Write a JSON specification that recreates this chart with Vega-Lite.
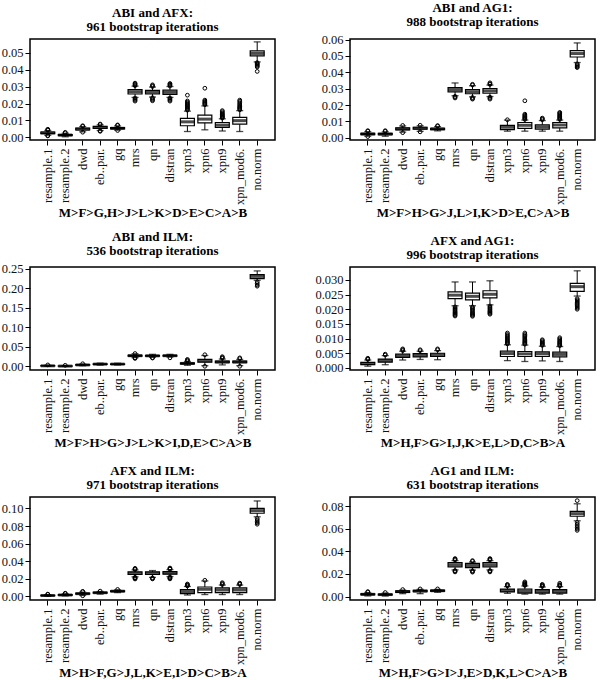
{
"$schema":"https://vega.github.io/schema/vega-lite/v6.json",
"padding":{"left":0,"top":0,"right":3,"bottom":0},
"background":"white",
"datasets":{
"b":[
{"p":1,"m":"resample.1","lo":0.0013,"q1":0.0022,"md":0.0027,"q3":0.0032,"hi":0.0041},
{"p":1,"m":"resample.2","lo":0.0004,"q1":0.0011,"md":0.0014,"q3":0.0017,"hi":0.0025},
{"p":1,"m":"dwd","lo":0.0033,"q1":0.0044,"md":0.0049,"q3":0.0055,"hi":0.0064},
{"p":1,"m":"eb..par.","lo":0.0041,"q1":0.0054,"md":0.0059,"q3":0.0065,"hi":0.0074},
{"p":1,"m":"gq","lo":0.0043,"q1":0.005,"md":0.0054,"q3":0.0058,"hi":0.0068},
{"p":1,"m":"mrs","lo":0.0236,"q1":0.0256,"md":0.0269,"q3":0.0282,"hi":0.0302},
{"p":1,"m":"qn","lo":0.0238,"q1":0.0256,"md":0.0266,"q3":0.0277,"hi":0.0297},
{"p":1,"m":"distran","lo":0.0236,"q1":0.0254,"md":0.0266,"q3":0.0279,"hi":0.03},
{"p":1,"m":"xpn3","lo":0.0035,"q1":0.0069,"md":0.0092,"q3":0.0112,"hi":0.0155},
{"p":1,"m":"xpn6","lo":0.0045,"q1":0.0086,"md":0.0108,"q3":0.0131,"hi":0.0186},
{"p":1,"m":"xpn9","lo":0.0038,"q1":0.0059,"md":0.0073,"q3":0.0088,"hi":0.011},
{"p":1,"m":"xpn_mod6.","lo":0.0035,"q1":0.0078,"md":0.0099,"q3":0.0118,"hi":0.0158},
{"p":1,"m":"no.norm","lo":0.0445,"q1":0.0481,"md":0.0495,"q3":0.051,"hi":0.0563},
{"p":2,"m":"resample.1","lo":0.0009,"q1":0.0019,"md":0.0023,"q3":0.0027,"hi":0.0037},
{"p":2,"m":"resample.2","lo":0.0009,"q1":0.0018,"md":0.0022,"q3":0.0026,"hi":0.0036},
{"p":2,"m":"dwd","lo":0.0034,"q1":0.0048,"md":0.0054,"q3":0.006,"hi":0.0072},
{"p":2,"m":"eb..par.","lo":0.0039,"q1":0.0053,"md":0.0058,"q3":0.0064,"hi":0.0073},
{"p":2,"m":"gq","lo":0.0042,"q1":0.005,"md":0.0054,"q3":0.0058,"hi":0.0068},
{"p":2,"m":"mrs","lo":0.0257,"q1":0.0281,"md":0.0294,"q3":0.0307,"hi":0.0335},
{"p":2,"m":"qn","lo":0.025,"q1":0.0269,"md":0.0282,"q3":0.0295,"hi":0.0318},
{"p":2,"m":"distran","lo":0.0252,"q1":0.0272,"md":0.0286,"q3":0.03,"hi":0.0322},
{"p":2,"m":"xpn3","lo":0.004,"q1":0.0049,"md":0.0064,"q3":0.0076,"hi":0.0108},
{"p":2,"m":"xpn6","lo":0.004,"q1":0.0057,"md":0.0076,"q3":0.0093,"hi":0.0108},
{"p":2,"m":"xpn9","lo":0.004,"q1":0.0052,"md":0.0066,"q3":0.0079,"hi":0.0105},
{"p":2,"m":"xpn_mod6.","lo":0.004,"q1":0.006,"md":0.0078,"q3":0.0093,"hi":0.0108},
{"p":2,"m":"no.norm","lo":0.046,"q1":0.0494,"md":0.0515,"q3":0.0533,"hi":0.058},
{"p":3,"m":"resample.1","lo":0.0005,"q1":0.0013,"md":0.0017,"q3":0.0021,"hi":0.003},
{"p":3,"m":"resample.2","lo":0.0002,"q1":0.0007,"md":0.001,"q3":0.0013,"hi":0.002},
{"p":3,"m":"dwd","lo":0.002,"q1":0.0033,"md":0.004,"q3":0.0047,"hi":0.006},
{"p":3,"m":"eb..par.","lo":0.0035,"q1":0.0052,"md":0.006,"q3":0.0067,"hi":0.0085},
{"p":3,"m":"gq","lo":0.0038,"q1":0.0053,"md":0.006,"q3":0.0066,"hi":0.0082},
{"p":3,"m":"mrs","lo":0.0225,"q1":0.0262,"md":0.0275,"q3":0.0288,"hi":0.0325},
{"p":3,"m":"qn","lo":0.0235,"q1":0.0262,"md":0.0272,"q3":0.0282,"hi":0.031},
{"p":3,"m":"distran","lo":0.024,"q1":0.0265,"md":0.0275,"q3":0.0285,"hi":0.031},
{"p":3,"m":"xpn3","lo":0.003,"q1":0.0062,"md":0.0078,"q3":0.0092,"hi":0.013},
{"p":3,"m":"xpn6","lo":0.002,"q1":0.011,"md":0.0145,"q3":0.018,"hi":0.028},
{"p":3,"m":"xpn9","lo":0.004,"q1":0.0095,"md":0.0115,"q3":0.0135,"hi":0.019},
{"p":3,"m":"xpn_mod6.","lo":0.002,"q1":0.0095,"md":0.0115,"q3":0.0135,"hi":0.018},
{"p":3,"m":"no.norm","lo":0.22,"q1":0.2245,"md":0.23,"q3":0.2345,"hi":0.244},
{"p":4,"m":"resample.1","lo":0.0006,"q1":0.0011,"md":0.0015,"q3":0.0019,"hi":0.0027},
{"p":4,"m":"resample.2","lo":0.0011,"q1":0.002,"md":0.0025,"q3":0.003,"hi":0.0042},
{"p":4,"m":"dwd","lo":0.0027,"q1":0.0036,"md":0.0041,"q3":0.0047,"hi":0.0057},
{"p":4,"m":"eb..par.","lo":0.0029,"q1":0.0038,"md":0.0043,"q3":0.0049,"hi":0.0057},
{"p":4,"m":"gq","lo":0.0028,"q1":0.0039,"md":0.0045,"q3":0.005,"hi":0.0059},
{"p":4,"m":"mrs","lo":0.0212,"q1":0.0236,"md":0.0248,"q3":0.0259,"hi":0.0293},
{"p":4,"m":"qn","lo":0.0212,"q1":0.0232,"md":0.0244,"q3":0.0255,"hi":0.0293},
{"p":4,"m":"distran","lo":0.0215,"q1":0.0239,"md":0.0251,"q3":0.0263,"hi":0.0297},
{"p":4,"m":"xpn3","lo":0.0025,"q1":0.0039,"md":0.0049,"q3":0.0057,"hi":0.0079},
{"p":4,"m":"xpn6","lo":0.0022,"q1":0.0039,"md":0.0048,"q3":0.0056,"hi":0.0078},
{"p":4,"m":"xpn9","lo":0.0024,"q1":0.0039,"md":0.0048,"q3":0.0055,"hi":0.0074},
{"p":4,"m":"xpn_mod6.","lo":0.0022,"q1":0.0038,"md":0.0046,"q3":0.0054,"hi":0.0073},
{"p":4,"m":"no.norm","lo":0.0245,"q1":0.0261,"md":0.0277,"q3":0.0288,"hi":0.0331},
{"p":5,"m":"resample.1","lo":0.0001,"q1":0.0006,"md":0.0009,"q3":0.0012,"hi":0.0019},
{"p":5,"m":"resample.2","lo":0.0005,"q1":0.0012,"md":0.0015,"q3":0.0019,"hi":0.0028},
{"p":5,"m":"dwd","lo":0.001,"q1":0.0025,"md":0.003,"q3":0.0036,"hi":0.0048},
{"p":5,"m":"eb..par.","lo":0.0025,"q1":0.0036,"md":0.0041,"q3":0.0046,"hi":0.0055},
{"p":5,"m":"gq","lo":0.0042,"q1":0.0053,"md":0.0058,"q3":0.0063,"hi":0.0074},
{"p":5,"m":"mrs","lo":0.0222,"q1":0.0248,"md":0.0262,"q3":0.0277,"hi":0.03},
{"p":5,"m":"qn","lo":0.0215,"q1":0.0248,"md":0.0262,"q3":0.0277,"hi":0.0293},
{"p":5,"m":"distran","lo":0.0225,"q1":0.0252,"md":0.0266,"q3":0.0282,"hi":0.0303},
{"p":5,"m":"xpn3","lo":0.0015,"q1":0.003,"md":0.0053,"q3":0.0076,"hi":0.0112},
{"p":5,"m":"xpn6","lo":0.002,"q1":0.0042,"md":0.008,"q3":0.0106,"hi":0.0175},
{"p":5,"m":"xpn9","lo":0.002,"q1":0.0042,"md":0.0072,"q3":0.0095,"hi":0.0128},
{"p":5,"m":"xpn_mod6.","lo":0.002,"q1":0.0042,"md":0.0072,"q3":0.0097,"hi":0.0128},
{"p":5,"m":"no.norm","lo":0.0905,"q1":0.0945,"md":0.0975,"q3":0.1,"hi":0.1085},
{"p":6,"m":"resample.1","lo":0.0006,"q1":0.0016,"md":0.002,"q3":0.0025,"hi":0.0036},
{"p":6,"m":"resample.2","lo":0.0005,"q1":0.0014,"md":0.0018,"q3":0.0022,"hi":0.0032},
{"p":6,"m":"dwd","lo":0.0026,"q1":0.0038,"md":0.0044,"q3":0.005,"hi":0.0058},
{"p":6,"m":"eb..par.","lo":0.0026,"q1":0.0043,"md":0.0049,"q3":0.0055,"hi":0.0064},
{"p":6,"m":"gq","lo":0.0038,"q1":0.0047,"md":0.0052,"q3":0.0057,"hi":0.0064},
{"p":6,"m":"mrs","lo":0.0236,"q1":0.0262,"md":0.0281,"q3":0.0301,"hi":0.0318},
{"p":6,"m":"qn","lo":0.0234,"q1":0.0256,"md":0.0275,"q3":0.0293,"hi":0.0306},
{"p":6,"m":"distran","lo":0.0236,"q1":0.0262,"md":0.0281,"q3":0.0301,"hi":0.0318},
{"p":6,"m":"xpn3","lo":0.0029,"q1":0.0042,"md":0.0053,"q3":0.0066,"hi":0.0088},
{"p":6,"m":"xpn6","lo":0.0022,"q1":0.003,"md":0.0045,"q3":0.0066,"hi":0.0094},
{"p":6,"m":"xpn9","lo":0.0022,"q1":0.0031,"md":0.0045,"q3":0.0062,"hi":0.0085},
{"p":6,"m":"xpn_mod6.","lo":0.0022,"q1":0.0031,"md":0.0045,"q3":0.0062,"hi":0.0088},
{"p":6,"m":"no.norm","lo":0.067,"q1":0.071,"md":0.0733,"q3":0.0753,"hi":0.082}
],
"o":[
{"p":1,"m":"resample.1","v":0.0043},{"p":1,"m":"resample.1","v":0.0046},{"p":1,"m":"resample.1","v":0.0048},{"p":1,"m":"resample.1","v":0.0011},{"p":1,"m":"resample.1","v":0.0009},
{"p":1,"m":"resample.2","v":0.0027},{"p":1,"m":"resample.2","v":0.003},
{"p":1,"m":"dwd","v":0.0066},{"p":1,"m":"dwd","v":0.0069},{"p":1,"m":"dwd","v":0.0031},
{"p":1,"m":"eb..par.","v":0.0076},{"p":1,"m":"eb..par.","v":0.0079},{"p":1,"m":"eb..par.","v":0.0039},{"p":1,"m":"eb..par.","v":0.0036},
{"p":1,"m":"gq","v":0.0071},{"p":1,"m":"gq","v":0.0074},{"p":1,"m":"gq","v":0.0041},
{"p":1,"m":"mrs","v":0.0305},{"p":1,"m":"mrs","v":0.031},{"p":1,"m":"mrs","v":0.0315},{"p":1,"m":"mrs","v":0.032},{"p":1,"m":"mrs","v":0.0232},{"p":1,"m":"mrs","v":0.0226},{"p":1,"m":"mrs","v":0.022},{"p":1,"m":"mrs","v":0.0214},
{"p":1,"m":"qn","v":0.03},{"p":1,"m":"qn","v":0.0305},{"p":1,"m":"qn","v":0.031},{"p":1,"m":"qn","v":0.0234},{"p":1,"m":"qn","v":0.0228},{"p":1,"m":"qn","v":0.0222},{"p":1,"m":"qn","v":0.0216},
{"p":1,"m":"distran","v":0.0303},{"p":1,"m":"distran","v":0.0308},{"p":1,"m":"distran","v":0.0313},{"p":1,"m":"distran","v":0.0318},{"p":1,"m":"distran","v":0.0232},{"p":1,"m":"distran","v":0.0226},{"p":1,"m":"distran","v":0.022},{"p":1,"m":"distran","v":0.0214},
{"p":1,"m":"xpn3","v":0.0161},{"p":1,"m":"xpn3","v":0.0166},{"p":1,"m":"xpn3","v":0.0171},{"p":1,"m":"xpn3","v":0.0176},{"p":1,"m":"xpn3","v":0.0181},{"p":1,"m":"xpn3","v":0.0186},{"p":1,"m":"xpn3","v":0.0191},{"p":1,"m":"xpn3","v":0.0196},{"p":1,"m":"xpn3","v":0.0202},{"p":1,"m":"xpn3","v":0.0208},{"p":1,"m":"xpn3","v":0.0215},{"p":1,"m":"xpn3","v":0.0249},
{"p":1,"m":"xpn6","v":0.0193},{"p":1,"m":"xpn6","v":0.0198},{"p":1,"m":"xpn6","v":0.0203},{"p":1,"m":"xpn6","v":0.0208},{"p":1,"m":"xpn6","v":0.0214},{"p":1,"m":"xpn6","v":0.022},{"p":1,"m":"xpn6","v":0.029},
{"p":1,"m":"xpn9","v":0.0114},{"p":1,"m":"xpn9","v":0.0118},{"p":1,"m":"xpn9","v":0.0122},{"p":1,"m":"xpn9","v":0.0126},{"p":1,"m":"xpn9","v":0.013},{"p":1,"m":"xpn9","v":0.0135},{"p":1,"m":"xpn9","v":0.014},{"p":1,"m":"xpn9","v":0.0145},{"p":1,"m":"xpn9","v":0.0152},{"p":1,"m":"xpn9","v":0.0158},
{"p":1,"m":"xpn_mod6.","v":0.0163},{"p":1,"m":"xpn_mod6.","v":0.0168},{"p":1,"m":"xpn_mod6.","v":0.0173},{"p":1,"m":"xpn_mod6.","v":0.0178},{"p":1,"m":"xpn_mod6.","v":0.0183},{"p":1,"m":"xpn_mod6.","v":0.019},{"p":1,"m":"xpn_mod6.","v":0.0197},{"p":1,"m":"xpn_mod6.","v":0.0205},{"p":1,"m":"xpn_mod6.","v":0.0213},{"p":1,"m":"xpn_mod6.","v":0.022},
{"p":1,"m":"no.norm","v":0.0441},{"p":1,"m":"no.norm","v":0.0436},{"p":1,"m":"no.norm","v":0.0431},{"p":1,"m":"no.norm","v":0.0426},{"p":1,"m":"no.norm","v":0.042},{"p":1,"m":"no.norm","v":0.0415},{"p":1,"m":"no.norm","v":0.0389},
{"p":2,"m":"resample.1","v":0.004},{"p":2,"m":"resample.1","v":0.0043},{"p":2,"m":"resample.1","v":0.0007},
{"p":2,"m":"resample.2","v":0.0039},{"p":2,"m":"resample.2","v":0.0043},
{"p":2,"m":"dwd","v":0.0075},{"p":2,"m":"dwd","v":0.0031},
{"p":2,"m":"eb..par.","v":0.0076},{"p":2,"m":"eb..par.","v":0.0036},
{"p":2,"m":"gq","v":0.0071},{"p":2,"m":"gq","v":0.0074},
{"p":2,"m":"mrs","v":0.0253},{"p":2,"m":"mrs","v":0.0248},{"p":2,"m":"mrs","v":0.0243},
{"p":2,"m":"qn","v":0.0322},{"p":2,"m":"qn","v":0.0327},{"p":2,"m":"qn","v":0.0246},{"p":2,"m":"qn","v":0.024},{"p":2,"m":"qn","v":0.0236},
{"p":2,"m":"distran","v":0.0326},{"p":2,"m":"distran","v":0.033},{"p":2,"m":"distran","v":0.0336},{"p":2,"m":"distran","v":0.0248},{"p":2,"m":"distran","v":0.0242},{"p":2,"m":"distran","v":0.0236},
{"p":2,"m":"xpn3","v":0.011},
{"p":2,"m":"xpn6","v":0.0112},{"p":2,"m":"xpn6","v":0.0117},{"p":2,"m":"xpn6","v":0.0122},{"p":2,"m":"xpn6","v":0.0127},{"p":2,"m":"xpn6","v":0.0132},{"p":2,"m":"xpn6","v":0.0138},{"p":2,"m":"xpn6","v":0.0144},{"p":2,"m":"xpn6","v":0.0226},
{"p":2,"m":"xpn9","v":0.011},{"p":2,"m":"xpn9","v":0.0115},{"p":2,"m":"xpn9","v":0.012},
{"p":2,"m":"xpn_mod6.","v":0.0112},{"p":2,"m":"xpn_mod6.","v":0.0117},{"p":2,"m":"xpn_mod6.","v":0.0122},{"p":2,"m":"xpn_mod6.","v":0.0127},{"p":2,"m":"xpn_mod6.","v":0.0132},{"p":2,"m":"xpn_mod6.","v":0.0138},{"p":2,"m":"xpn_mod6.","v":0.0144},{"p":2,"m":"xpn_mod6.","v":0.015},{"p":2,"m":"xpn_mod6.","v":0.0155},
{"p":2,"m":"no.norm","v":0.0452},{"p":2,"m":"no.norm","v":0.0446},{"p":2,"m":"no.norm","v":0.044},{"p":2,"m":"no.norm","v":0.0434},{"p":2,"m":"no.norm","v":0.0429},
{"p":3,"m":"resample.1","v":0.004},{"p":3,"m":"resample.2","v":0.003},{"p":3,"m":"dwd","v":0.007},
{"p":3,"m":"mrs","v":0.033},{"p":3,"m":"mrs","v":0.022},{"p":3,"m":"mrs","v":0.0205},
{"p":3,"m":"qn","v":0.0225},{"p":3,"m":"qn","v":0.0215},{"p":3,"m":"distran","v":0.022},
{"p":3,"m":"xpn3","v":0.014},{"p":3,"m":"xpn3","v":0.016},{"p":3,"m":"xpn3","v":0.018},
{"p":3,"m":"xpn6","v":0.03},{"p":3,"m":"xpn6","v":0.0005},
{"p":3,"m":"xpn9","v":0.021},{"p":3,"m":"xpn9","v":0.023},{"p":3,"m":"xpn9","v":0.025},
{"p":3,"m":"xpn_mod6.","v":0.02},{"p":3,"m":"xpn_mod6.","v":0.022},{"p":3,"m":"xpn_mod6.","v":0.0005},
{"p":3,"m":"no.norm","v":0.216},{"p":3,"m":"no.norm","v":0.212},{"p":3,"m":"no.norm","v":0.208},{"p":3,"m":"no.norm","v":0.205},
{"p":4,"m":"resample.1","v":0.0029},{"p":4,"m":"resample.1","v":0.0031},{"p":4,"m":"resample.1","v":0.0033},
{"p":4,"m":"resample.2","v":0.0044},{"p":4,"m":"resample.2","v":0.0047},
{"p":4,"m":"dwd","v":0.0059},{"p":4,"m":"dwd","v":0.0062},{"p":4,"m":"dwd","v":0.0065},
{"p":4,"m":"eb..par.","v":0.0059},{"p":4,"m":"eb..par.","v":0.0062},
{"p":4,"m":"gq","v":0.0062},{"p":4,"m":"gq","v":0.0065},
{"p":4,"m":"mrs","v":0.0208},{"p":4,"m":"mrs","v":0.0204},{"p":4,"m":"mrs","v":0.02},{"p":4,"m":"mrs","v":0.0196},{"p":4,"m":"mrs","v":0.0192},{"p":4,"m":"mrs","v":0.0189},{"p":4,"m":"mrs","v":0.0186},{"p":4,"m":"mrs","v":0.0183},{"p":4,"m":"mrs","v":0.018},{"p":4,"m":"mrs","v":0.0177},
{"p":4,"m":"qn","v":0.0208},{"p":4,"m":"qn","v":0.0204},{"p":4,"m":"qn","v":0.02},{"p":4,"m":"qn","v":0.0196},{"p":4,"m":"qn","v":0.0192},{"p":4,"m":"qn","v":0.0188},{"p":4,"m":"qn","v":0.0185},{"p":4,"m":"qn","v":0.0182},{"p":4,"m":"qn","v":0.0179},{"p":4,"m":"qn","v":0.0176},
{"p":4,"m":"distran","v":0.0211},{"p":4,"m":"distran","v":0.0207},{"p":4,"m":"distran","v":0.0203},{"p":4,"m":"distran","v":0.0199},{"p":4,"m":"distran","v":0.0195},{"p":4,"m":"distran","v":0.0192},{"p":4,"m":"distran","v":0.0189},{"p":4,"m":"distran","v":0.0186},{"p":4,"m":"distran","v":0.0183},
{"p":4,"m":"xpn3","v":0.0082},{"p":4,"m":"xpn3","v":0.0085},{"p":4,"m":"xpn3","v":0.0088},{"p":4,"m":"xpn3","v":0.0091},{"p":4,"m":"xpn3","v":0.0094},{"p":4,"m":"xpn3","v":0.0098},{"p":4,"m":"xpn3","v":0.0102},{"p":4,"m":"xpn3","v":0.0106},{"p":4,"m":"xpn3","v":0.011},{"p":4,"m":"xpn3","v":0.0114},{"p":4,"m":"xpn3","v":0.0119},
{"p":4,"m":"xpn6","v":0.0081},{"p":4,"m":"xpn6","v":0.0084},{"p":4,"m":"xpn6","v":0.0087},{"p":4,"m":"xpn6","v":0.009},{"p":4,"m":"xpn6","v":0.0094},{"p":4,"m":"xpn6","v":0.0098},{"p":4,"m":"xpn6","v":0.0102},{"p":4,"m":"xpn6","v":0.0106},{"p":4,"m":"xpn6","v":0.011},{"p":4,"m":"xpn6","v":0.0114},{"p":4,"m":"xpn6","v":0.0119},
{"p":4,"m":"xpn9","v":0.0077},{"p":4,"m":"xpn9","v":0.008},{"p":4,"m":"xpn9","v":0.0083},{"p":4,"m":"xpn9","v":0.0086},{"p":4,"m":"xpn9","v":0.0089},{"p":4,"m":"xpn9","v":0.0093},{"p":4,"m":"xpn9","v":0.0096},
{"p":4,"m":"xpn_mod6.","v":0.0076},{"p":4,"m":"xpn_mod6.","v":0.0079},{"p":4,"m":"xpn_mod6.","v":0.0082},{"p":4,"m":"xpn_mod6.","v":0.0085},{"p":4,"m":"xpn_mod6.","v":0.0088},{"p":4,"m":"xpn_mod6.","v":0.0091},{"p":4,"m":"xpn_mod6.","v":0.0095},{"p":4,"m":"xpn_mod6.","v":0.0099},{"p":4,"m":"xpn_mod6.","v":0.0103},
{"p":4,"m":"no.norm","v":0.0236},{"p":4,"m":"no.norm","v":0.0232},{"p":4,"m":"no.norm","v":0.0228},{"p":4,"m":"no.norm","v":0.0224},{"p":4,"m":"no.norm","v":0.022},{"p":4,"m":"no.norm","v":0.0216},{"p":4,"m":"no.norm","v":0.0212},{"p":4,"m":"no.norm","v":0.0208},{"p":4,"m":"no.norm","v":0.0204},{"p":4,"m":"no.norm","v":0.02},
{"p":5,"m":"resample.1","v":0.0022},{"p":5,"m":"resample.1","v":0.0025},
{"p":5,"m":"resample.2","v":0.0031},{"p":5,"m":"resample.2","v":0.0035},
{"p":5,"m":"dwd","v":0.0052},{"p":5,"m":"dwd","v":0.0056},{"p":5,"m":"dwd","v":0.0006},
{"p":5,"m":"eb..par.","v":0.0059},{"p":5,"m":"gq","v":0.0078},
{"p":5,"m":"mrs","v":0.0305},{"p":5,"m":"mrs","v":0.0312},{"p":5,"m":"mrs","v":0.0318},{"p":5,"m":"mrs","v":0.0216},{"p":5,"m":"mrs","v":0.021},{"p":5,"m":"mrs","v":0.0203},{"p":5,"m":"mrs","v":0.0197},
{"p":5,"m":"qn","v":0.021},{"p":5,"m":"qn","v":0.0204},{"p":5,"m":"qn","v":0.0198},
{"p":5,"m":"distran","v":0.0309},{"p":5,"m":"distran","v":0.0316},{"p":5,"m":"distran","v":0.0322},{"p":5,"m":"distran","v":0.0219},{"p":5,"m":"distran","v":0.0212},{"p":5,"m":"distran","v":0.0205},{"p":5,"m":"distran","v":0.0198},
{"p":5,"m":"xpn3","v":0.0118},{"p":5,"m":"xpn3","v":0.0125},{"p":5,"m":"xpn3","v":0.0132},{"p":5,"m":"xpn3","v":0.014},
{"p":5,"m":"xpn6","v":0.0182},
{"p":5,"m":"xpn9","v":0.0134},{"p":5,"m":"xpn9","v":0.0145},{"p":5,"m":"xpn9","v":0.0155},
{"p":5,"m":"xpn_mod6.","v":0.0135},{"p":5,"m":"xpn_mod6.","v":0.0142},{"p":5,"m":"xpn_mod6.","v":0.015},
{"p":5,"m":"no.norm","v":0.0885},{"p":5,"m":"no.norm","v":0.0868},{"p":5,"m":"no.norm","v":0.085},{"p":5,"m":"no.norm","v":0.0835},{"p":5,"m":"no.norm","v":0.082},
{"p":6,"m":"resample.1","v":0.004},{"p":6,"m":"resample.1","v":0.0044},
{"p":6,"m":"resample.2","v":0.0036},{"p":6,"m":"dwd","v":0.0062},{"p":6,"m":"eb..par.","v":0.0068},{"p":6,"m":"gq","v":0.0068},
{"p":6,"m":"mrs","v":0.0324},{"p":6,"m":"mrs","v":0.033},{"p":6,"m":"mrs","v":0.0336},{"p":6,"m":"mrs","v":0.023},{"p":6,"m":"mrs","v":0.0224},{"p":6,"m":"mrs","v":0.0218},
{"p":6,"m":"qn","v":0.0312},{"p":6,"m":"qn","v":0.0318},{"p":6,"m":"qn","v":0.0228},{"p":6,"m":"qn","v":0.0222},{"p":6,"m":"qn","v":0.0216},
{"p":6,"m":"distran","v":0.0324},{"p":6,"m":"distran","v":0.033},{"p":6,"m":"distran","v":0.0336},{"p":6,"m":"distran","v":0.023},{"p":6,"m":"distran","v":0.0224},{"p":6,"m":"distran","v":0.0218},
{"p":6,"m":"xpn3","v":0.0095},{"p":6,"m":"xpn3","v":0.0102},{"p":6,"m":"xpn3","v":0.0108},
{"p":6,"m":"xpn6","v":0.0099},{"p":6,"m":"xpn6","v":0.0104},{"p":6,"m":"xpn6","v":0.011},{"p":6,"m":"xpn6","v":0.0116},{"p":6,"m":"xpn6","v":0.0122},{"p":6,"m":"xpn6","v":0.013},
{"p":6,"m":"xpn9","v":0.009},{"p":6,"m":"xpn9","v":0.0096},{"p":6,"m":"xpn9","v":0.0102},{"p":6,"m":"xpn9","v":0.0108},
{"p":6,"m":"xpn_mod6.","v":0.0094},{"p":6,"m":"xpn_mod6.","v":0.01},{"p":6,"m":"xpn_mod6.","v":0.0106},{"p":6,"m":"xpn_mod6.","v":0.0118},
{"p":6,"m":"no.norm","v":0.0848},{"p":6,"m":"no.norm","v":0.0655},{"p":6,"m":"no.norm","v":0.064},{"p":6,"m":"no.norm","v":0.0625},{"p":6,"m":"no.norm","v":0.061},{"p":6,"m":"no.norm","v":0.0597},{"p":6,"m":"no.norm","v":0.0585}
]
},
"columns":2,
"bounds":"flush",
"spacing":{"row":127,"column":75},
"concat":[
{"title":{"text":["ABI and AFX:","961 bootstrap iterations"]},"width":245,"height":101,
"encoding":{"x":{"field":"m","type":"nominal","scale":{"domain":["resample.1","resample.2","dwd","eb..par.","gq","mrs","qn","distran","xpn3","xpn6","xpn9","xpn_mod6.","no.norm"],"paddingInner":0.2,"paddingOuter":0.62},"axis":{"title":"M>F>G,H>J>L>K>D>E>C>A>B"}}},
"layer":[
{"data":{"name":"b"},"transform":[{"filter":"datum.p==1"}],"mark":{"type":"rule","color":"black","strokeWidth":1},"encoding":{"y":{"field":"lo","type":"quantitative","title":null,"scale":{"domain":[-0.0015,0.058],"nice":false,"zero":false},"axis":{"values":[0,0.01,0.02,0.03,0.04,0.05],"format":".2f","labelOverlap":false}},"y2":{"field":"hi"}}},
{"data":{"name":"b"},"transform":[{"filter":"datum.p==1"},{"fold":["lo","hi"]}],"mark":{"type":"tick","color":"black","size":7,"thickness":1.3},"encoding":{"y":{"field":"value","type":"quantitative","title":null,"scale":{"domain":[-0.0015,0.058],"nice":false,"zero":false},"axis":{"values":[0,0.01,0.02,0.03,0.04,0.05],"format":".2f","labelOverlap":false}}}},
{"data":{"name":"b"},"transform":[{"filter":"datum.p==1"}],"mark":{"type":"bar","fill":"white","stroke":"black","strokeWidth":1.2},"encoding":{"y":{"field":"q1","type":"quantitative","title":null,"scale":{"domain":[-0.0015,0.058],"nice":false,"zero":false},"axis":{"values":[0,0.01,0.02,0.03,0.04,0.05],"format":".2f","labelOverlap":false}},"y2":{"field":"q3"}}},
{"data":{"name":"b"},"transform":[{"filter":"datum.p==1"}],"mark":{"type":"tick","color":"black","size":14,"thickness":3},"encoding":{"y":{"field":"md","type":"quantitative","title":null,"scale":{"domain":[-0.0015,0.058],"nice":false,"zero":false},"axis":{"values":[0,0.01,0.02,0.03,0.04,0.05],"format":".2f","labelOverlap":false}}}},
{"data":{"name":"o"},"transform":[{"filter":"datum.p==1"}],"mark":{"type":"point","shape":"circle","filled":false,"color":"black","size":14,"strokeWidth":1,"opacity":1},"encoding":{"y":{"field":"v","type":"quantitative","title":null,"scale":{"domain":[-0.0015,0.058],"nice":false,"zero":false},"axis":{"values":[0,0.01,0.02,0.03,0.04,0.05],"format":".2f","labelOverlap":false}}}}
]},
{"title":{"text":["ABI and AG1:","988 bootstrap iterations"]},"width":245,"height":101,
"encoding":{"x":{"field":"m","type":"nominal","scale":{"domain":["resample.1","resample.2","dwd","eb..par.","gq","mrs","qn","distran","xpn3","xpn6","xpn9","xpn_mod6.","no.norm"],"paddingInner":0.2,"paddingOuter":0.62},"axis":{"title":"M>F>H>G>J,L>I,K>D>E,C>A>B"}}},
"layer":[
{"data":{"name":"b"},"transform":[{"filter":"datum.p==2"}],"mark":{"type":"rule","color":"black","strokeWidth":1},"encoding":{"y":{"field":"lo","type":"quantitative","title":null,"scale":{"domain":[-0.0014,0.0604],"nice":false,"zero":false},"axis":{"values":[0,0.01,0.02,0.03,0.04,0.05,0.06],"format":".2f","labelOverlap":false}},"y2":{"field":"hi"}}},
{"data":{"name":"b"},"transform":[{"filter":"datum.p==2"},{"fold":["lo","hi"]}],"mark":{"type":"tick","color":"black","size":7,"thickness":1.3},"encoding":{"y":{"field":"value","type":"quantitative","title":null,"scale":{"domain":[-0.0014,0.0604],"nice":false,"zero":false},"axis":{"values":[0,0.01,0.02,0.03,0.04,0.05,0.06],"format":".2f","labelOverlap":false}}}},
{"data":{"name":"b"},"transform":[{"filter":"datum.p==2"}],"mark":{"type":"bar","fill":"white","stroke":"black","strokeWidth":1.2},"encoding":{"y":{"field":"q1","type":"quantitative","title":null,"scale":{"domain":[-0.0014,0.0604],"nice":false,"zero":false},"axis":{"values":[0,0.01,0.02,0.03,0.04,0.05,0.06],"format":".2f","labelOverlap":false}},"y2":{"field":"q3"}}},
{"data":{"name":"b"},"transform":[{"filter":"datum.p==2"}],"mark":{"type":"tick","color":"black","size":14,"thickness":3},"encoding":{"y":{"field":"md","type":"quantitative","title":null,"scale":{"domain":[-0.0014,0.0604],"nice":false,"zero":false},"axis":{"values":[0,0.01,0.02,0.03,0.04,0.05,0.06],"format":".2f","labelOverlap":false}}}},
{"data":{"name":"o"},"transform":[{"filter":"datum.p==2"}],"mark":{"type":"point","shape":"circle","filled":false,"color":"black","size":14,"strokeWidth":1,"opacity":1},"encoding":{"y":{"field":"v","type":"quantitative","title":null,"scale":{"domain":[-0.0014,0.0604],"nice":false,"zero":false},"axis":{"values":[0,0.01,0.02,0.03,0.04,0.05,0.06],"format":".2f","labelOverlap":false}}}}
]},
{"title":{"text":["ABI and ILM:","536 bootstrap iterations"]},"width":245,"height":103,
"encoding":{"x":{"field":"m","type":"nominal","scale":{"domain":["resample.1","resample.2","dwd","eb..par.","gq","mrs","qn","distran","xpn3","xpn6","xpn9","xpn_mod6.","no.norm"],"paddingInner":0.2,"paddingOuter":0.62},"axis":{"title":"M>F>H>G>J>L>K>I,D,E>C>A>B"}}},
"layer":[
{"data":{"name":"b"},"transform":[{"filter":"datum.p==3"}],"mark":{"type":"rule","color":"black","strokeWidth":1},"encoding":{"y":{"field":"lo","type":"quantitative","title":null,"scale":{"domain":[-0.009,0.254],"nice":false,"zero":false},"axis":{"values":[0,0.05,0.1,0.15,0.2,0.25],"format":".2f","labelOverlap":false}},"y2":{"field":"hi"}}},
{"data":{"name":"b"},"transform":[{"filter":"datum.p==3"},{"fold":["lo","hi"]}],"mark":{"type":"tick","color":"black","size":7,"thickness":1.3},"encoding":{"y":{"field":"value","type":"quantitative","title":null,"scale":{"domain":[-0.009,0.254],"nice":false,"zero":false},"axis":{"values":[0,0.05,0.1,0.15,0.2,0.25],"format":".2f","labelOverlap":false}}}},
{"data":{"name":"b"},"transform":[{"filter":"datum.p==3"}],"mark":{"type":"bar","fill":"white","stroke":"black","strokeWidth":1.2},"encoding":{"y":{"field":"q1","type":"quantitative","title":null,"scale":{"domain":[-0.009,0.254],"nice":false,"zero":false},"axis":{"values":[0,0.05,0.1,0.15,0.2,0.25],"format":".2f","labelOverlap":false}},"y2":{"field":"q3"}}},
{"data":{"name":"b"},"transform":[{"filter":"datum.p==3"}],"mark":{"type":"tick","color":"black","size":14,"thickness":3},"encoding":{"y":{"field":"md","type":"quantitative","title":null,"scale":{"domain":[-0.009,0.254],"nice":false,"zero":false},"axis":{"values":[0,0.05,0.1,0.15,0.2,0.25],"format":".2f","labelOverlap":false}}}},
{"data":{"name":"o"},"transform":[{"filter":"datum.p==3"}],"mark":{"type":"point","shape":"circle","filled":false,"color":"black","size":14,"strokeWidth":1,"opacity":1},"encoding":{"y":{"field":"v","type":"quantitative","title":null,"scale":{"domain":[-0.009,0.254],"nice":false,"zero":false},"axis":{"values":[0,0.05,0.1,0.15,0.2,0.25],"format":".2f","labelOverlap":false}}}}
]},
{"title":{"text":["AFX and AG1:","996 bootstrap iterations"]},"width":245,"height":103,
"encoding":{"x":{"field":"m","type":"nominal","scale":{"domain":["resample.1","resample.2","dwd","eb..par.","gq","mrs","qn","distran","xpn3","xpn6","xpn9","xpn_mod6.","no.norm"],"paddingInner":0.2,"paddingOuter":0.62},"axis":{"title":"M>H,F>G>I,J,K>E,L>D,C>B>A"}}},
"layer":[
{"data":{"name":"b"},"transform":[{"filter":"datum.p==4"}],"mark":{"type":"rule","color":"black","strokeWidth":1},"encoding":{"y":{"field":"lo","type":"quantitative","title":null,"scale":{"domain":[-0.0007,0.0344],"nice":false,"zero":false},"axis":{"values":[0,0.005,0.01,0.015,0.02,0.025,0.03],"format":".3f","labelOverlap":false}},"y2":{"field":"hi"}}},
{"data":{"name":"b"},"transform":[{"filter":"datum.p==4"},{"fold":["lo","hi"]}],"mark":{"type":"tick","color":"black","size":7,"thickness":1.3},"encoding":{"y":{"field":"value","type":"quantitative","title":null,"scale":{"domain":[-0.0007,0.0344],"nice":false,"zero":false},"axis":{"values":[0,0.005,0.01,0.015,0.02,0.025,0.03],"format":".3f","labelOverlap":false}}}},
{"data":{"name":"b"},"transform":[{"filter":"datum.p==4"}],"mark":{"type":"bar","fill":"white","stroke":"black","strokeWidth":1.2},"encoding":{"y":{"field":"q1","type":"quantitative","title":null,"scale":{"domain":[-0.0007,0.0344],"nice":false,"zero":false},"axis":{"values":[0,0.005,0.01,0.015,0.02,0.025,0.03],"format":".3f","labelOverlap":false}},"y2":{"field":"q3"}}},
{"data":{"name":"b"},"transform":[{"filter":"datum.p==4"}],"mark":{"type":"tick","color":"black","size":14,"thickness":3},"encoding":{"y":{"field":"md","type":"quantitative","title":null,"scale":{"domain":[-0.0007,0.0344],"nice":false,"zero":false},"axis":{"values":[0,0.005,0.01,0.015,0.02,0.025,0.03],"format":".3f","labelOverlap":false}}}},
{"data":{"name":"o"},"transform":[{"filter":"datum.p==4"}],"mark":{"type":"point","shape":"circle","filled":false,"color":"black","size":14,"strokeWidth":1,"opacity":1},"encoding":{"y":{"field":"v","type":"quantitative","title":null,"scale":{"domain":[-0.0007,0.0344],"nice":false,"zero":false},"axis":{"values":[0,0.005,0.01,0.015,0.02,0.025,0.03],"format":".3f","labelOverlap":false}}}}
]},
{"title":{"text":["AFX and ILM:","971 bootstrap iterations"]},"width":245,"height":103,
"encoding":{"x":{"field":"m","type":"nominal","scale":{"domain":["resample.1","resample.2","dwd","eb..par.","gq","mrs","qn","distran","xpn3","xpn6","xpn9","xpn_mod6.","no.norm"],"paddingInner":0.2,"paddingOuter":0.62},"axis":{"title":"M>H>F,G>J,L,K>E,I>D>C>B>A"}}},
"layer":[
{"data":{"name":"b"},"transform":[{"filter":"datum.p==5"}],"mark":{"type":"rule","color":"black","strokeWidth":1},"encoding":{"y":{"field":"lo","type":"quantitative","title":null,"scale":{"domain":[-0.0042,0.113],"nice":false,"zero":false},"axis":{"values":[0,0.02,0.04,0.06,0.08,0.1],"format":".2f","labelOverlap":false}},"y2":{"field":"hi"}}},
{"data":{"name":"b"},"transform":[{"filter":"datum.p==5"},{"fold":["lo","hi"]}],"mark":{"type":"tick","color":"black","size":7,"thickness":1.3},"encoding":{"y":{"field":"value","type":"quantitative","title":null,"scale":{"domain":[-0.0042,0.113],"nice":false,"zero":false},"axis":{"values":[0,0.02,0.04,0.06,0.08,0.1],"format":".2f","labelOverlap":false}}}},
{"data":{"name":"b"},"transform":[{"filter":"datum.p==5"}],"mark":{"type":"bar","fill":"white","stroke":"black","strokeWidth":1.2},"encoding":{"y":{"field":"q1","type":"quantitative","title":null,"scale":{"domain":[-0.0042,0.113],"nice":false,"zero":false},"axis":{"values":[0,0.02,0.04,0.06,0.08,0.1],"format":".2f","labelOverlap":false}},"y2":{"field":"q3"}}},
{"data":{"name":"b"},"transform":[{"filter":"datum.p==5"}],"mark":{"type":"tick","color":"black","size":14,"thickness":3},"encoding":{"y":{"field":"md","type":"quantitative","title":null,"scale":{"domain":[-0.0042,0.113],"nice":false,"zero":false},"axis":{"values":[0,0.02,0.04,0.06,0.08,0.1],"format":".2f","labelOverlap":false}}}},
{"data":{"name":"o"},"transform":[{"filter":"datum.p==5"}],"mark":{"type":"point","shape":"circle","filled":false,"color":"black","size":14,"strokeWidth":1,"opacity":1},"encoding":{"y":{"field":"v","type":"quantitative","title":null,"scale":{"domain":[-0.0042,0.113],"nice":false,"zero":false},"axis":{"values":[0,0.02,0.04,0.06,0.08,0.1],"format":".2f","labelOverlap":false}}}}
]},
{"title":{"text":["AG1 and ILM:","631 bootstrap iterations"]},"width":245,"height":103,
"encoding":{"x":{"field":"m","type":"nominal","scale":{"domain":["resample.1","resample.2","dwd","eb..par.","gq","mrs","qn","distran","xpn3","xpn6","xpn9","xpn_mod6.","no.norm"],"paddingInner":0.2,"paddingOuter":0.62},"axis":{"title":"M>H,F>G>I>J,E>D,K,L>C>A>B"}}},
"layer":[
{"data":{"name":"b"},"transform":[{"filter":"datum.p==6"}],"mark":{"type":"rule","color":"black","strokeWidth":1},"encoding":{"y":{"field":"lo","type":"quantitative","title":null,"scale":{"domain":[-0.003,0.088],"nice":false,"zero":false},"axis":{"values":[0,0.02,0.04,0.06,0.08],"format":".2f","labelOverlap":false}},"y2":{"field":"hi"}}},
{"data":{"name":"b"},"transform":[{"filter":"datum.p==6"},{"fold":["lo","hi"]}],"mark":{"type":"tick","color":"black","size":7,"thickness":1.3},"encoding":{"y":{"field":"value","type":"quantitative","title":null,"scale":{"domain":[-0.003,0.088],"nice":false,"zero":false},"axis":{"values":[0,0.02,0.04,0.06,0.08],"format":".2f","labelOverlap":false}}}},
{"data":{"name":"b"},"transform":[{"filter":"datum.p==6"}],"mark":{"type":"bar","fill":"white","stroke":"black","strokeWidth":1.2},"encoding":{"y":{"field":"q1","type":"quantitative","title":null,"scale":{"domain":[-0.003,0.088],"nice":false,"zero":false},"axis":{"values":[0,0.02,0.04,0.06,0.08],"format":".2f","labelOverlap":false}},"y2":{"field":"q3"}}},
{"data":{"name":"b"},"transform":[{"filter":"datum.p==6"}],"mark":{"type":"tick","color":"black","size":14,"thickness":3},"encoding":{"y":{"field":"md","type":"quantitative","title":null,"scale":{"domain":[-0.003,0.088],"nice":false,"zero":false},"axis":{"values":[0,0.02,0.04,0.06,0.08],"format":".2f","labelOverlap":false}}}},
{"data":{"name":"o"},"transform":[{"filter":"datum.p==6"}],"mark":{"type":"point","shape":"circle","filled":false,"color":"black","size":14,"strokeWidth":1,"opacity":1},"encoding":{"y":{"field":"v","type":"quantitative","title":null,"scale":{"domain":[-0.003,0.088],"nice":false,"zero":false},"axis":{"values":[0,0.02,0.04,0.06,0.08],"format":".2f","labelOverlap":false}}}}
]}
],
"config":{
"font":"Liberation Serif, Times New Roman, serif",
"view":{"stroke":"black","strokeWidth":1.5},
"title":{"font":"Liberation Serif, Times New Roman, serif","fontSize":13,"fontWeight":"bold","color":"black","lineHeight":14,"offset":5,"anchor":"middle"},
"axis":{"domain":false,"grid":false,"ticks":true,"tickColor":"black","tickSize":5,"labelFont":"Liberation Serif, Times New Roman, serif","labelFontSize":12.5,"labelColor":"#111","labelOverlap":false,"titleFont":"Liberation Serif, Times New Roman, serif","titleFontSize":13,"titleFontWeight":"bold","titleColor":"black"},
"axisX":{"labelAngle":-90,"labelPadding":3,"titlePadding":2},
"axisY":{"labelPadding":2,"labelOverlap":false}
}
}
